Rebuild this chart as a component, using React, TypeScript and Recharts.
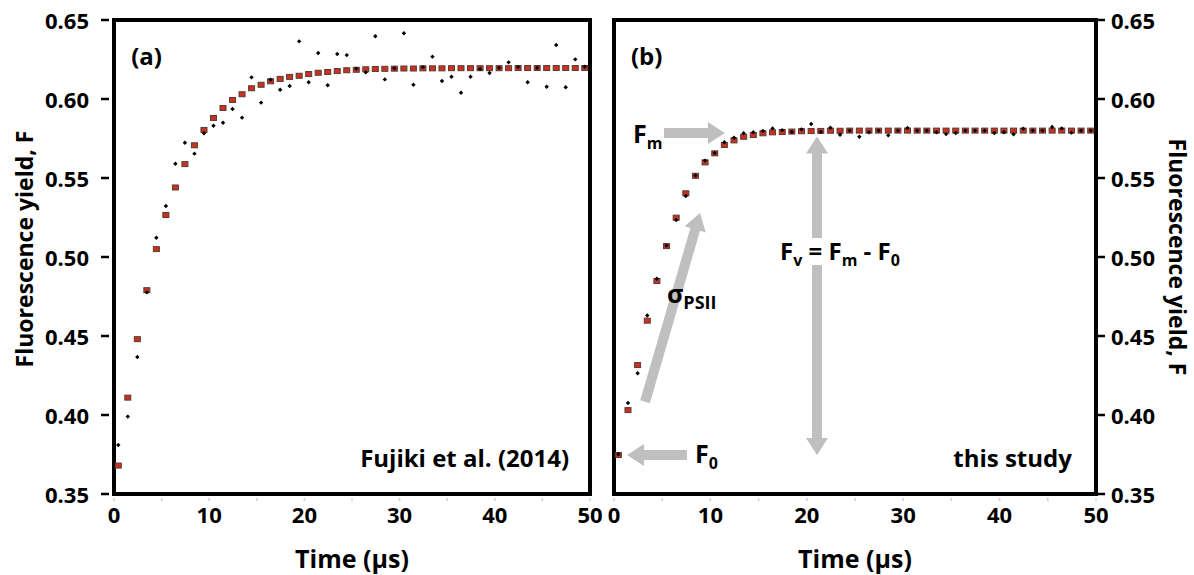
import React from 'react';
import { ScatterChart, Scatter, XAxis, YAxis, ReferenceArea, ReferenceLine, ReferenceDot } from 'recharts';

const FONT = '"Open Sans", Lato, sans-serif';

const times = [
  0.45, 1.45, 2.45, 3.45, 4.45, 5.45, 6.45, 7.45, 8.45, 9.45,
  10.45, 11.45, 12.45, 13.45, 14.45, 15.45, 16.45, 17.45, 18.45, 19.45,
  20.45, 21.45, 22.45, 23.45, 24.45, 25.45, 26.45, 27.45, 28.45, 29.45,
  30.45, 31.45, 32.45, 33.45, 34.45, 35.45, 36.45, 37.45, 38.45, 39.45,
  40.45, 41.45, 42.45, 43.45, 44.45, 45.45, 46.45, 47.45, 48.45, 49.45,
];

// Panel (a) Fujiki et al. (2014)
const fitA = [
  0.368, 0.411, 0.448, 0.479, 0.505, 0.5266, 0.544, 0.5588, 0.5707, 0.5804,
  0.588, 0.5943, 0.5994, 0.603, 0.6068, 0.609, 0.6112, 0.6127, 0.614, 0.6147,
  0.6158, 0.6166, 0.6171, 0.6177, 0.6182, 0.6185, 0.6188, 0.619, 0.6191, 0.6192,
  0.6193, 0.6193, 0.6194, 0.6194, 0.6194, 0.6195, 0.6195, 0.6195, 0.6195, 0.6195,
  0.6195, 0.6195, 0.6196, 0.6196, 0.6196, 0.6196, 0.6196, 0.6196, 0.6196, 0.6196,
];
const obsA = [
  0.381, 0.399, 0.4367, 0.4776, 0.5122, 0.5323, 0.559, 0.5723, 0.5654, 0.5783,
  0.5831, 0.585, 0.5937, 0.5882, 0.6137, 0.5977, 0.6122, 0.6059, 0.6082, 0.6365,
  0.6106, 0.6291, 0.6087, 0.6285, 0.6278, 0.6192, 0.6169, 0.6397, 0.6124, 0.6195,
  0.6416, 0.609, 0.6202, 0.6268, 0.6114, 0.6141, 0.604, 0.6141, 0.619, 0.6165,
  0.6198, 0.6232, 0.6202, 0.6106, 0.6197, 0.6078, 0.6342, 0.6074, 0.6251, 0.6204,
];

// Panel (b) this study
const fitB = [
  0.3747, 0.4031, 0.4316, 0.4597, 0.4848, 0.5069, 0.5249, 0.5403, 0.5514, 0.5599,
  0.5656, 0.5709, 0.5738, 0.5761, 0.5772, 0.5783, 0.5789, 0.5791, 0.5794, 0.5796,
  0.5797, 0.5798, 0.5799, 0.5799, 0.58, 0.58, 0.58, 0.58, 0.58, 0.58,
  0.58, 0.58, 0.58, 0.58, 0.58, 0.58, 0.58, 0.58, 0.58, 0.58,
  0.58, 0.58, 0.58, 0.58, 0.58, 0.58, 0.58, 0.58, 0.58, 0.58,
];
const obsB = [
  0.3752, 0.4076, 0.4264, 0.463, 0.4862, 0.5072, 0.5234, 0.5386, 0.5516, 0.561,
  0.5658, 0.5726, 0.5755, 0.5783, 0.579, 0.5797, 0.5814, 0.5803, 0.5791, 0.5808,
  0.5842, 0.5793, 0.5818, 0.5774, 0.58, 0.5761, 0.579, 0.58, 0.577, 0.58,
  0.5816, 0.58, 0.58, 0.579, 0.5778, 0.5785, 0.58, 0.58, 0.58, 0.5785,
  0.579, 0.5777, 0.5812, 0.58, 0.58, 0.5823, 0.5814, 0.5787, 0.58, 0.58,
];

const xTicks = [0, 5, 10, 15, 20, 25, 30, 35, 40, 45, 50];
const yTicks = [0.35, 0.4, 0.45, 0.5, 0.55, 0.6, 0.65];

const mk = (ys: number[]) => times.map((t, i) => ({ t, f: ys[i] }));

const SquareShape = (p: any) => (
  <rect x={p.cx - 3} y={p.cy - 2.5} width={6} height={5} fill="#c8321e" stroke="#5a3a36" strokeWidth={1} />
);
const DotShape = (p: any) => (
  <path d={`M${p.cx},${p.cy - 2.2} L${p.cx + 2.2},${p.cy} L${p.cx},${p.cy + 2.2} L${p.cx - 2.2},${p.cy} Z`} fill="#000" />
);

const XTick = (p: any) => {
  const { x, y, payload } = p;
  const v = payload.value;
  return (
    <g>
      <line x1={x} x2={x} y1={y + 4} y2={y + 7} stroke="#d0d0d0" strokeWidth={1.5} />
      {v % 10 === 0 && (
        <text x={x} y={y + 20} textAnchor="middle" dominantBaseline="central" fontFamily={FONT} fontWeight={700} fontSize={22} fill="#000">
          {v}
        </text>
      )}
    </g>
  );
};

const YTickLeft = (p: any) => {
  const { x, y, payload } = p;
  return (
    <g>
      <line x1={x - 13} x2={x - 5} y1={y} y2={y} stroke="#000" strokeWidth={2.5} />
      <text x={x - 25} y={y} textAnchor="end" dominantBaseline="central" fontFamily={FONT} fontWeight={700} fontSize={22} fill="#000">
        {payload.value.toFixed(2)}
      </text>
    </g>
  );
};

const YTickRight = (p: any) => {
  const { x, y, payload } = p;
  return (
    <g>
      <line x1={x + 2} x2={x + 9} y1={y} y2={y} stroke="#000" strokeWidth={2.5} />
      <text x={x + 15} y={y} textAnchor="start" dominantBaseline="central" fontFamily={FONT} fontWeight={700} fontSize={22} fill="#000">
        {payload.value.toFixed(2)}
      </text>
    </g>
  );
};

const YTitle = (p: any) => {
  const vb = p.viewBox || {};
  const left = p.side === 'left';
  const cx = left ? vb.x + 24 : vb.x + vb.width - 16;
  const cy = vb.y + vb.height / 2 + (left ? -8 : 0);
  return (
    <text
      x={cx}
      y={cy}
      transform={`rotate(${left ? -90 : 90}, ${cx}, ${cy})`}
      textAnchor="middle"
      dominantBaseline="central"
      fontFamily={FONT}
      fontWeight={700}
      fontSize={23}
      fill="#000"
    >
      Fluorescence yield, F
    </text>
  );
};

const XTitle = (p: any) => {
  const vb = p.viewBox || {};
  const cx = vb.x + vb.width / 2;
  return (
    <text x={cx} y={vb.y + 64} textAnchor="middle" dominantBaseline="central" fontFamily={FONT} fontWeight={700} fontSize={25} fill="#000">
      Time (µs)
    </text>
  );
};

const ArrowShape = (p: any) => {
  const { x1, y1, x2, y2 } = p;
  if ([x1, y1, x2, y2].some((v) => typeof v !== 'number' || isNaN(v))) return null;
  const dx = x2 - x1;
  const dy = y2 - y1;
  const L = Math.hypot(dx, dy) || 1;
  const ux = dx / L;
  const uy = dy / L;
  const px = -uy;
  const py = ux;
  const hl = 17;
  const hw = 11;
  const sw = 5;
  const bx = x2 - ux * hl;
  const by = y2 - uy * hl;
  const pts = [
    [x1 + px * sw, y1 + py * sw],
    [bx + px * sw, by + py * sw],
    [bx + px * hw, by + py * hw],
    [x2, y2],
    [bx - px * hw, by - py * hw],
    [bx - px * sw, by - py * sw],
    [x1 - px * sw, y1 - py * sw],
  ];
  return <polygon points={pts.map((q) => q.join(',')).join(' ')} fill="#bfbfbf" />;
};

const makeText = (content: React.ReactNode, anchor: string, size: number) => (p: any) => {
  if (typeof p.cx !== 'number') return null;
  return (
    <text x={p.cx} y={p.cy} textAnchor={anchor} fontFamily={FONT} fontWeight={700} fontSize={size} fill="#000">
      {content}
    </text>
  );
};

const sub = (main: string, s: string, size: number, subSize: number) => (
  <>
    <tspan fontSize={size}>{main}</tspan>
    <tspan fontSize={subSize} dy={6}>{s}</tspan>
  </>
);

const commonX = (
  <XAxis
    type="number"
    dataKey="t"
    domain={[0, 50]}
    ticks={xTicks}
    interval={0}
    height={81}
    axisLine={false}
    tickLine={false}
    tickSize={0}
    tickMargin={0}
    tick={<XTick />}
    label={<XTitle />}
  />
);

export default function App() {
  const sqA = mk(fitA);
  const dtA = mk(obsA);
  const sqB = mk(fitB);
  const dtB = mk(obsB);
  return (
    <div style={{ position: 'absolute', left: 0, top: 0, width: 1194, height: 575, background: '#fff', overflow: 'hidden' }}>
      <div style={{ position: 'absolute', left: 0, top: 0 }}>
        <ScatterChart width={620} height={575} margin={{ top: 20, right: 30, bottom: 0, left: 0 }}>
          {commonX}
          <YAxis
            type="number"
            dataKey="f"
            domain={[0.35, 0.65]}
            ticks={yTicks}
            interval={0}
            width={114}
            axisLine={false}
            tickLine={false}
            tickSize={0}
            tickMargin={0}
            tick={<YTickLeft />}
            label={<YTitle side="left" />}
          />
          <Scatter data={sqA} shape={SquareShape} isAnimationActive={false} />
          <Scatter data={dtA} shape={DotShape} isAnimationActive={false} />
          <ReferenceArea x1={0} x2={50} y1={0.35} y2={0.65} fill="none" stroke="#000" strokeWidth={4} fillOpacity={0} />
          <ReferenceDot x={1.8} y={0.6215} r={0} shape={makeText('(a)', 'start', 24)} />
          <ReferenceDot x={47.8} y={0.367} r={0} shape={makeText('Fujiki et al. (2014)', 'end', 24)} />
        </ScatterChart>
      </div>
      <div style={{ position: 'absolute', left: 600, top: 0 }}>
        <ScatterChart width={594} height={575} margin={{ top: 20, right: 0, bottom: 0, left: 14 }}>
          {commonX}
          <YAxis
            type="number"
            dataKey="f"
            orientation="right"
            domain={[0.35, 0.65]}
            ticks={yTicks}
            interval={0}
            width={98}
            axisLine={false}
            tickLine={false}
            tickSize={0}
            tickMargin={0}
            tick={<YTickRight />}
            label={<YTitle side="right" />}
          />
          <Scatter data={sqB} shape={SquareShape} isAnimationActive={false} />
          <Scatter data={dtB} shape={DotShape} isAnimationActive={false} />
          <ReferenceArea x1={0} x2={50} y1={0.35} y2={0.65} fill="none" stroke="#000" strokeWidth={4} fillOpacity={0} />
          <ReferenceLine segment={[{ x: 5.19, y: 0.5785 }, { x: 11.5, y: 0.5785 }]} shape={ArrowShape} />
          <ReferenceLine segment={[{ x: 7.57, y: 0.3747 }, { x: 1.35, y: 0.3747 }]} shape={ArrowShape} />
          <ReferenceLine segment={[{ x: 3.22, y: 0.4084 }, { x: 8.92, y: 0.5278 }]} shape={ArrowShape} />
          <ReferenceLine segment={[{ x: 21.06, y: 0.512 }, { x: 21.06, y: 0.5763 }]} shape={ArrowShape} />
          <ReferenceLine segment={[{ x: 21.06, y: 0.4949 }, { x: 21.06, y: 0.3747 }]} shape={ArrowShape} />
          <ReferenceDot x={1.76} y={0.6215} r={0} shape={makeText('(b)', 'start', 24)} />
          <ReferenceDot x={47.5} y={0.367} r={0} shape={makeText('this study', 'end', 24)} />
          <ReferenceDot x={1.97} y={0.5721} r={0} shape={makeText(sub('F', 'm', 25, 16), 'start', 25)} />
          <ReferenceDot x={8.4} y={0.3696} r={0} shape={makeText(sub('F', '0', 25, 16), 'start', 25)} />
          <ReferenceDot x={5.5} y={0.4709} r={0} shape={makeText(sub('σ', 'PSII', 25, 18), 'start', 25)} />
          <ReferenceDot
            x={17.22}
            y={0.498}
            r={0}
            shape={makeText(
              <>
                <tspan fontSize={24}>F</tspan>
                <tspan fontSize={16} dy={6}>v</tspan>
                <tspan fontSize={24} dy={-6}> = F</tspan>
                <tspan fontSize={16} dy={6}>m</tspan>
                <tspan fontSize={24} dy={-6}> - F</tspan>
                <tspan fontSize={16} dy={6}>0</tspan>
              </>,
              'start',
              24,
            )}
          />
        </ScatterChart>
      </div>
    </div>
  );
}
